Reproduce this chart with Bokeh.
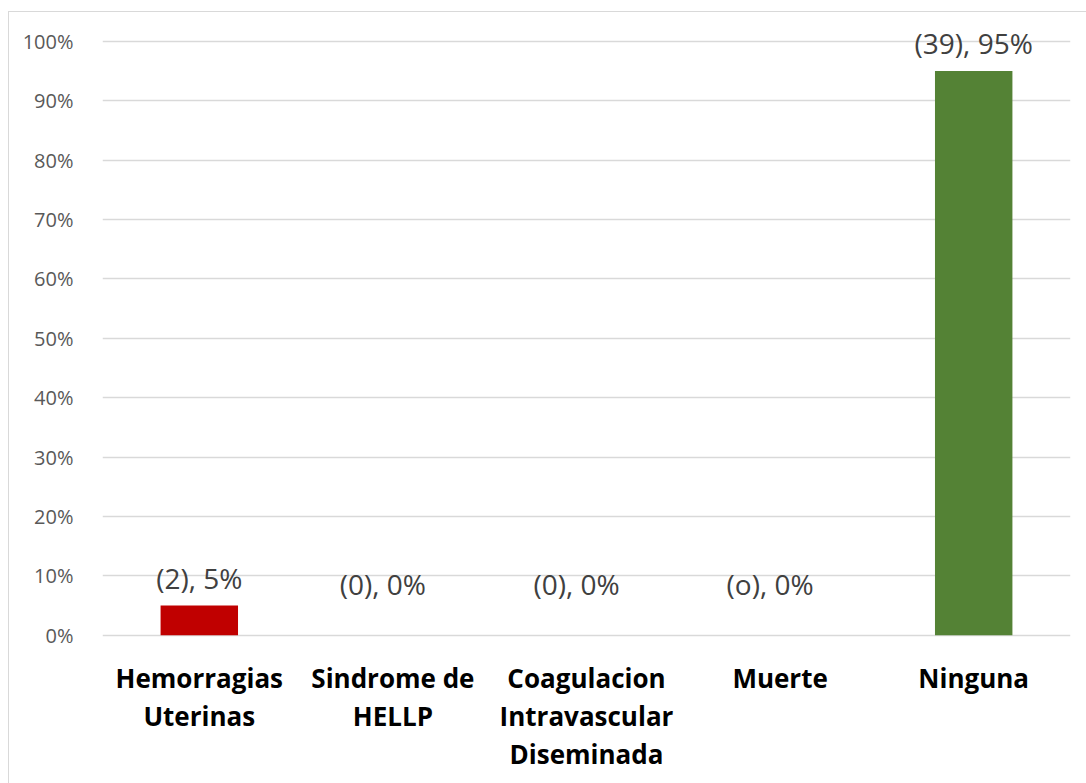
from bokeh.plotting import figure
from bokeh.models import ColumnDataSource, Range1d, FixedTicker, NumeralTickFormatter
from bokeh.core.properties import value
from bokeh.embed import file_html
from bokeh.resources import INLINE

# Complications, share of patients (percent) and counts
categories = [
    "Hemorragias\nUterinas",
    "Sindrome de\nHELLP",
    "Coagulacion\nIntravascular\nDiseminada",
    "Muerte",
    "Ninguna",
]
percent = [5, 0, 0, 0, 95]
labels = ["(2), 5%", "(0), 0%", "(0), 0%", "(o), 0%", "(39), 95%"]
colors = ["#C00000", "#C00000", "#C00000", "#C00000", "#548235"]
y_ticks = [i / 10 for i in range(11)]

FONT = "Open Sans"

frac = [v / 100 for v in percent]
# data labels sit just above each bar; empty bars get their label lifted higher
label_y = [f + (0.047 if f > 0 else 0.086) for f in frac]
label_dx = [0 if f > 0 else -10 for f in frac]

src = ColumnDataSource(dict(cat=categories, top=frac, color=colors,
                            label=labels, ly=label_y, dx=label_dx))

# category names are drawn below the baseline, one text item per line
cat_x, cat_y, cat_txt = [], [], []
for c in categories:
    for i, line in enumerate(c.split("\n")):
        cat_x.append(c)
        cat_y.append(-0.0725 - i * 0.0641)
        cat_txt.append(line)
cat_src = ColumnDataSource(dict(x=cat_x, y=cat_y, t=cat_txt))

p = figure(
    x_range=categories,
    y_range=Range1d(-0.2513, 1.04),
    width=1078,
    height=772,
    output_backend="svg",
    toolbar_location=None,
    min_border_left=93,
    min_border_right=17,
    min_border_top=5,
    min_border_bottom=0,
)
p.margin = (11, 0, 0, 8)
p.styles = {"border-left": "1px solid #D9D9D9", "border-top": "1px solid #D9D9D9"}
p.outline_line_color = None
p.background_fill_color = "white"
p.border_fill_color = "white"

p.vbar(x="cat", top="top", width=0.4, color="color", source=src, line_color=None)

p.text(x="cat", y="ly", text="label", source=src, x_offset="dx",
       text_align="center", text_baseline="middle",
       text_font=value(FONT), text_font_size="28px", text_color="#404040")

p.text(x="x", y="y", text="t", source=cat_src,
       text_align="center", text_baseline="middle",
       text_font=value(FONT), text_font_size="26px", text_font_style="bold",
       text_color="black")

# axes
p.xaxis.visible = False
p.yaxis.ticker = FixedTicker(ticks=y_ticks)
p.yaxis.formatter = NumeralTickFormatter(format="0%")
p.yaxis.axis_line_color = None
p.yaxis.major_tick_line_color = None
p.yaxis.minor_tick_line_color = None
p.yaxis.major_label_standoff = 23
p.yaxis.major_label_text_font = FONT
p.yaxis.major_label_text_font_size = "20px"
p.yaxis.major_label_text_color = "#595959"

p.xgrid.grid_line_color = None
p.ygrid.ticker = FixedTicker(ticks=y_ticks)
p.ygrid.grid_line_color = "#D9D9D9"
p.ygrid.grid_line_width = 1.5

open("out.html", "w").write(file_html(p, INLINE))
